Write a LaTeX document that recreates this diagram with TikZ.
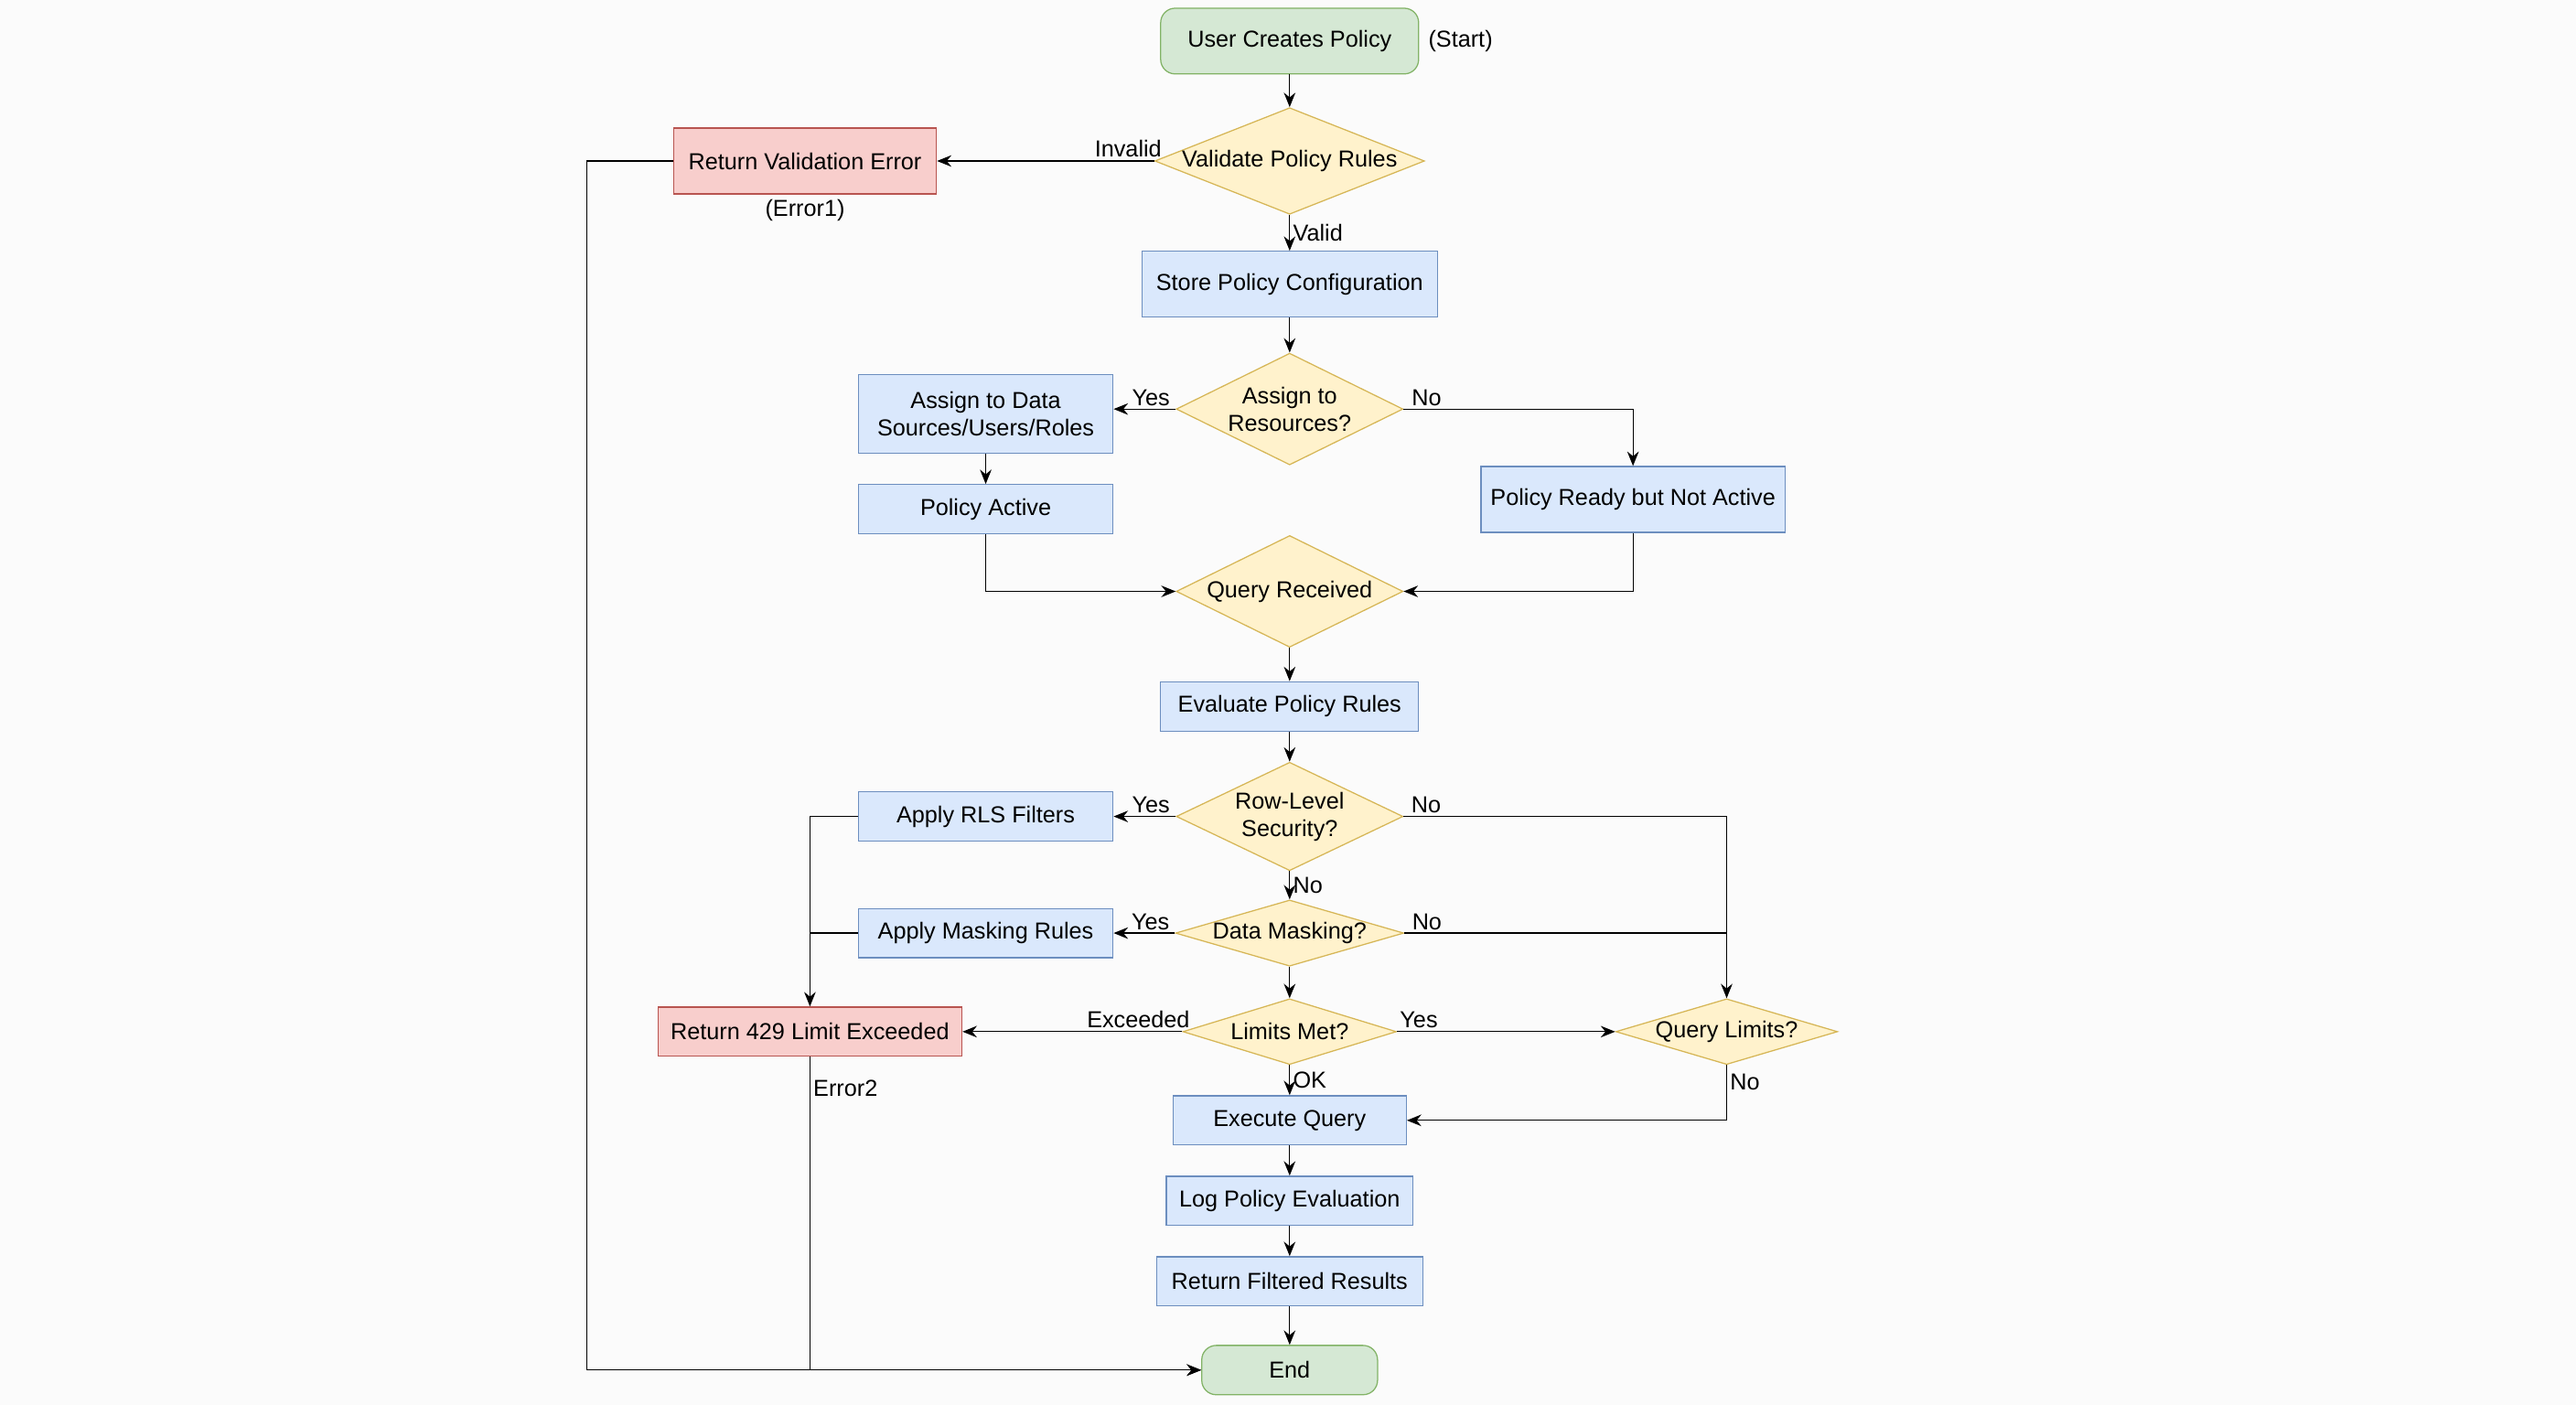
\documentclass[tikz,border=0pt]{standalone}
\usepackage{fontspec}
\setmainfont{Liberation Sans}
\usetikzlibrary{shapes.geometric,arrows.meta}
\definecolor{gf}{HTML}{D5E8D4}\definecolor{gd}{HTML}{82B366}
\definecolor{bf}{HTML}{DAE8FC}\definecolor{bd}{HTML}{6C8EBF}
\definecolor{yf}{HTML}{FFF2CC}\definecolor{yd}{HTML}{D6B656}
\definecolor{rf}{HTML}{F8CECC}\definecolor{rd}{HTML}{B85450}
\begin{document}
\begin{tikzpicture}[x=0.02cm,y=-0.02cm,
  every node/.style={font=\fontsize{8}{9.5}\selectfont},
  box/.style={draw=bd,fill=bf,minimum width=#1*0.02cm,minimum height=30*0.02cm,inner sep=1pt,align=center},
  tall/.style={minimum height=40*0.02cm},
  term/.style={draw=gd,fill=gf,rounded corners=5pt,minimum width=#1*0.02cm,align=center},
  err/.style={draw=rd,fill=rf,minimum width=#1*0.02cm,minimum height=30*0.02cm,align=center},
  dia/.style n args={3}{draw=yd,fill=yf,diamond,aspect=#3,minimum width=#1*0.02cm,minimum height=#2*0.02cm,inner sep=0pt,align=center},
  arr/.style={-{Stealth[length=5pt,width=4pt]},thin},
  ln/.style={thin},
  lab/.style={inner sep=1pt}]
\fill[white!97!gray] (0,0) rectangle (1568,855);
\useasboundingbox (0,0) rectangle (1568,855);
\node[term=157,minimum height=40*0.02cm] (start) at (785,25) {User Creates Policy};
\node[lab] (startl) at (889,25) {(Start)};
\node[dia={157}{62}{2.53}] (val) at (785,98) {Validate Policy Rules};
\node[err=160,minimum height=40*0.02cm] (verr) at (490,98) {Return Validation Error};
\node[lab] (e1) at (490,128) {(Error1)};
\node[box=180,tall] (store) at (785,173) {Store Policy Configuration};
\node[dia={138}{68}{2.03}] (asg) at (785,249) {Assign to\\Resources?};
\node[box=155,minimum height=48*0.02cm] (asgto) at (600,252) {Assign to Data\\Sources/Users/Roles};
\node[box=155] (act) at (600,310) {Policy Active};
\node[box=185,tall] (nact) at (994,304) {Policy Ready but Not Active};
\node[dia={138}{68}{2.03}] (qr) at (785,360) {Query Received};
\node[box=157] (ev) at (785,430) {Evaluate Policy Rules};
\node[dia={138}{66}{2.09}] (rls) at (785,497) {Row-Level\\Security?};
\node[box=155] (arls) at (600,497) {Apply RLS Filters};
\node[dia={138}{40}{3.45}] (dm) at (785,568) {Data Masking?};
\node[box=155] (am) at (600,568) {Apply Masking Rules};
\node[dia={130}{40}{3.25}] (lm) at (785,628) {Limits Met?};
\node[err=185] (e429) at (493,628) {Return 429 Limit Exceeded};
\node[dia={135}{40}{3.38}] (ql) at (1051,628) {Query Limits?};
\node[box=142] (ex) at (785,682) {Execute Query};
\node[box=150] (log) at (785,731) {Log Policy Evaluation};
\node[box=162] (ret) at (785,780) {Return Filtered Results};
\node[term=107,minimum height=30*0.02cm] (end) at (785,834) {End};
\coordinate (j1) at (1051,568);
\draw[arr] (start) -- (val);
\draw[arr] (val) -- node[lab,above,pos=0.12]{Invalid} (verr);
\draw[arr] (val) -- node[lab,right]{Valid} (store);
\draw[arr] (store) -- (asg);
\draw[arr] (asg) -- node[lab,above,pos=0.4]{Yes} (asgto.east|-asg);
\draw[arr] (asg.east) -- node[lab,above,pos=0.1]{No} (994,249) -- (nact);
\draw[arr] (asgto) -- (act);
\draw[arr] (act.south) |- (qr.west);
\draw[arr] (nact.south) |- (qr.east);
\draw[arr] (qr) -- (ev);
\draw[arr] (ev) -- (rls);
\draw[arr] (rls) -- node[lab,above,pos=0.4]{Yes} (arls);
\draw[arr] (rls.east) -- node[lab,above,pos=0.07]{No} (1051,497) -- (ql.north);
\draw[arr] (rls) -- node[lab,right]{No} (dm);
\draw[arr] (dm) -- node[lab,above,pos=0.4]{Yes} (am);
\draw[ln] (dm.east) -- node[lab,above,pos=0.07]{No} (j1);
\draw[arr] (arls.west) -| (e429.north);
\draw[ln] (am.west) -- (493,568);
\draw[arr] (dm) -- (lm);
\draw[arr] (lm) -- node[lab,above,pos=0.2]{Exceeded} (e429);
\draw[arr] (lm) -- node[lab,above,pos=0.1]{Yes} (ql);
\draw[arr] (lm) -- node[lab,right]{OK} (ex);
\draw[arr] (ql.south) -- node[lab,right,pos=0.3]{No} (1051,682) -- (ex.east);
\draw[arr] (e429.south) -- node[lab,right,pos=0.1]{Error2} (493,834) -- (end.west);
\draw[arr] (verr.west) -- (357,98) -- (357,834) -- (end.west);
\draw[arr] (ex) -- (log);
\draw[arr] (log) -- (ret);
\draw[arr] (ret) -- (end);
\end{tikzpicture}
\end{document}
